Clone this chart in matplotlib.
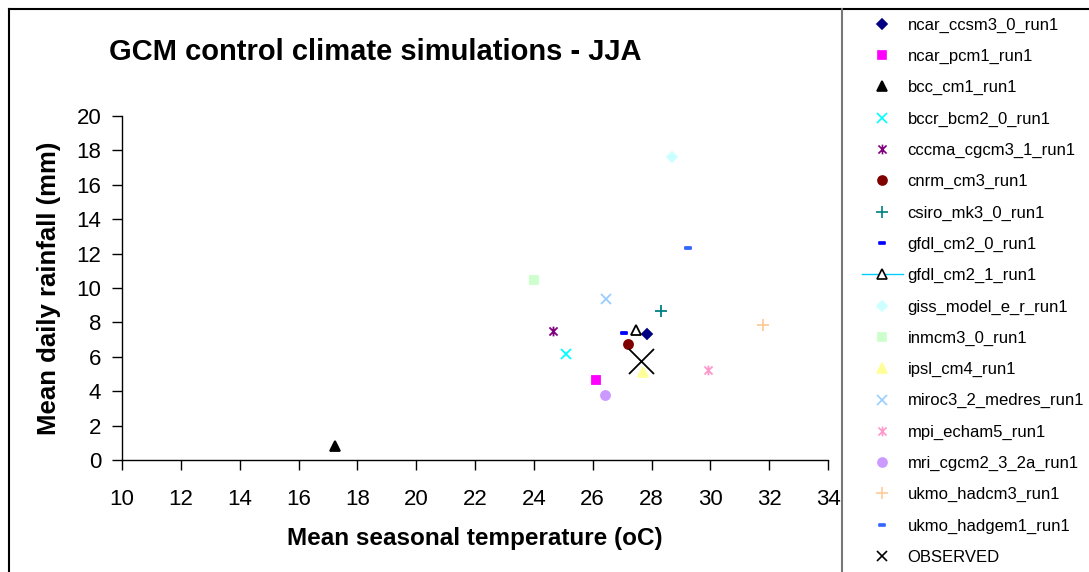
import matplotlib
matplotlib.use('Agg')
import matplotlib.pyplot as plt
from matplotlib.lines import Line2D
from matplotlib.path import Path

plt.rcParams['font.family'] = ['Liberation Sans', 'DejaVu Sans']

# model runs: mean JJA temperature (oC) and mean daily rainfall (mm)
models = ['ncar_ccsm3_0_run1', 'ncar_pcm1_run1', 'bcc_cm1_run1',
          'bccr_bcm2_0_run1', 'cccma_cgcm3_1_run1', 'cnrm_cm3_run1',
          'csiro_mk3_0_run1', 'gfdl_cm2_0_run1', 'gfdl_cm2_1_run1',
          'giss_model_e_r_run1', 'inmcm3_0_run1', 'ipsl_cm4_run1',
          'miroc3_2_medres_run1', 'mpi_echam5_run1', 'mri_cgcm2_3_2a_run1',
          'ukmo_hadcm3_run1', 'ukmo_hadgem1_run1']
temperature = [27.86, 26.12, 17.24, 25.11, 24.64, 27.20, 28.32, 27.05, 27.48,
               28.68, 24.00, 27.70, 26.45, 29.92, 26.43, 31.79, 29.23]
rainfall = [7.33, 4.65, 0.81, 6.18, 7.52, 6.76, 8.64, 7.38, 7.58,
            17.60, 10.47, 5.10, 9.36, 5.21, 3.76, 7.85, 12.34]

obs_temperature = 27.65
obs_rainfall = 5.76

# excel style markers
star = Path([(-1, -1), (1, 1), (-1, 1), (1, -1), (0, -1.2), (0, 1.2)],
            [Path.MOVETO, Path.LINETO, Path.MOVETO, Path.LINETO,
             Path.MOVETO, Path.LINETO])
dash = Path([(-1, -0.4), (1, -0.4), (1, 0.4), (-1, 0.4), (-1, -0.4)],
            [Path.MOVETO, Path.LINETO, Path.LINETO, Path.LINETO,
             Path.CLOSEPOLY])

# (marker, face colour, edge colour, size)
styles = [('D', '#000080', '#000080', 5.5),
          ('s', '#FF00FF', '#FF00FF', 6),
          ('^', '#000000', '#000000', 6.5),
          ('x', 'none', '#00FFFF', 7),
          (star, 'none', '#800080', 7),
          ('o', '#800000', '#800000', 6.5),
          ('+', 'none', '#008080', 8),
          (dash, '#0000FF', '#0000FF', 5),
          ('^', 'white', '#000000', 6.5),
          ('D', '#CCFFFF', '#CCFFFF', 5.5),
          ('s', '#CCFFCC', '#CCFFCC', 6),
          ('^', '#FFFF99', '#FFFF99', 7),
          ('x', 'none', '#99CCFF', 7),
          (star, 'none', '#FF99CC', 7),
          ('o', '#CC99FF', '#CC99FF', 6.5),
          ('+', 'none', '#FFCC99', 8),
          (dash, '#3366FF', '#3366FF', 5)]

W, H = 1089, 572
fig = plt.figure(figsize=(W / 100, H / 100), dpi=100)
ax = fig.add_axes([122 / W, 1 - 460 / H, (828 - 122) / W, (460 - 116) / H])

handles = []
for i in range(len(models)):
    m, fc, ec, ms = styles[i]
    ax.plot(temperature[i], rainfall[i], linestyle='none', marker=m,
            markersize=ms, markerfacecolor=fc, markeredgecolor=ec,
            markeredgewidth=1.3)
    if models[i] == 'gfdl_cm2_1_run1':
        ls, lc = '-', '#00CCFF'
    else:
        ls, lc = 'none', ec
    handles.append(Line2D([], [], linestyle=ls, color=lc, linewidth=1,
                          marker=m, markersize=ms, markerfacecolor=fc,
                          markeredgecolor=ec, markeredgewidth=1.2,
                          label=models[i]))

ax.plot(obs_temperature, obs_rainfall, linestyle='none', marker='x',
        markersize=18, color='black', markeredgewidth=1.3)
handles.append(Line2D([], [], linestyle='none', marker='x', markersize=7,
                      color='black', markeredgewidth=1.2, label='OBSERVED'))

ax.set_xlim(10, 34)
ax.set_ylim(0, 20)
ax.set_xticks(range(10, 35, 2))
ax.set_yticks(range(0, 21, 2))
for s in ['top', 'right']:
    ax.spines[s].set_visible(False)
for s in ['left', 'bottom']:
    ax.spines[s].set_linewidth(1)
ax.tick_params(direction='out', length=7, width=1, labelsize=16)
ax.tick_params(axis='x', pad=14)
ax.tick_params(axis='y', pad=8)

ax.set_xlabel('Mean seasonal temperature (oC)', fontsize=17.5,
              fontweight='bold', labelpad=12)
ax.set_ylabel('Mean daily rainfall (mm)', fontsize=18.5, fontweight='bold',
              labelpad=11)
fig.text(375 / W, 1 - 52 / H, 'GCM control climate simulations - JJA',
         fontsize=21, fontweight='bold', ha='center', va='center')

fig.legend(handles=handles, loc='upper left',
           bbox_to_anchor=(855 / W, 1 - 11 / H), frameon=False, fontsize=12,
           labelspacing=0.97, handlelength=2.46, handletextpad=0.3,
           borderaxespad=0)

# chart frame and legend separator
fig.add_artist(Line2D([9 / W, 1], [1 - 9 / H, 1 - 9 / H], color='black',
                      linewidth=1.5))
fig.add_artist(Line2D([9 / W, 9 / W], [0, 1 - 9 / H], color='black',
                      linewidth=1.5))
fig.add_artist(Line2D([842 / W, 842 / W], [0, 1 - 9 / H], color='#777777',
                      linewidth=1.5))

fig.savefig('out.png', dpi=100)
